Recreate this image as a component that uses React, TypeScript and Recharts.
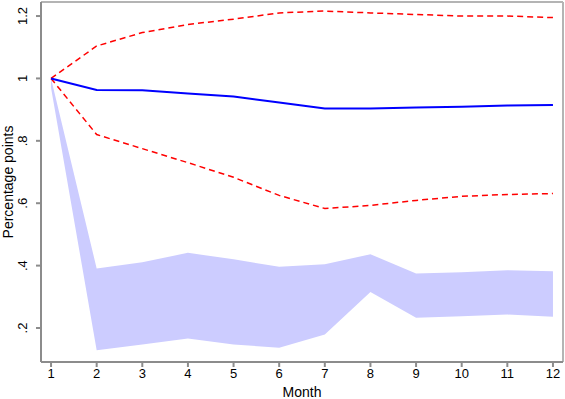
import React from "react";
import {
  ComposedChart,
  Area,
  Line,
  XAxis,
  YAxis,
  ReferenceLine,
} from "recharts";

const months = [1, 2, 3, 4, 5, 6, 7, 8, 9, 10, 11, 12];
const central = [1.0, 0.963, 0.962, 0.952, 0.942, 0.923, 0.904, 0.904, 0.907, 0.909, 0.913, 0.915];
const upperCI = [1.0, 1.104, 1.147, 1.173, 1.19, 1.21, 1.216, 1.21, 1.205, 1.2, 1.2, 1.195];
const lowerCI = [1.0, 0.82, 0.775, 0.73, 0.683, 0.625, 0.583, 0.593, 0.609, 0.622, 0.628, 0.631];
const bandHigh = [1.0, 0.391, 0.411, 0.441, 0.42, 0.396, 0.404, 0.436, 0.375, 0.379, 0.385, 0.382];
const bandLow = [0.97, 0.129, 0.147, 0.166, 0.147, 0.137, 0.179, 0.315, 0.233, 0.238, 0.243, 0.236];

const yTicks = [0.2, 0.4, 0.6, 0.8, 1, 1.2];
const yTickLabels = [".2", ".4", ".6", ".8", "1", "1.2"];

const data = months.map((m, i) => ({
  month: m,
  central: central[i],
  upper: upperCI[i],
  lower: lowerCI[i],
  band: [bandLow[i], bandHigh[i]],
}));

const font = "'Liberation Sans', Arial, sans-serif";
const frame = "#8c8c8c";

function YTick(props: any) {
  const { x, y, payload } = props;
  const idx = yTicks.indexOf(payload.value);
  return (
    <text
      x={x}
      y={y}
      dy="0.35em"
      textAnchor="middle"
      transform={`rotate(-90, ${x}, ${y})`}
      fontSize={13}
      fontFamily={font}
      fill="#000"
    >
      {idx >= 0 ? yTickLabels[idx] : payload.value}
    </text>
  );
}

function YLabel(props: any) {
  const { viewBox } = props;
  const cx = 8;
  const cy = viewBox.y + viewBox.height / 2;
  return (
    <text
      x={cx}
      y={cy}
      dy="0.35em"
      textAnchor="middle"
      transform={`rotate(-90, ${cx}, ${cy})`}
      fontSize={14}
      fontFamily={font}
      fill="#000"
    >
      Percentage points
    </text>
  );
}

export default function App() {
  return (
    <div style={{ position: "fixed", left: 0, top: 0, background: "#fff" }}>
      <ComposedChart
        width={565}
        height={399}
        data={data}
        margin={{ top: 2, right: 2, bottom: 0, left: 0 }}
      >
        <XAxis
          dataKey="month"
          type="number"
          domain={[0.78, 12.22]}
          ticks={months}
          allowDataOverflow
          height={37}
          stroke={frame}
          strokeWidth={2}
          tickSize={5}
          tick={{ fill: "#000", fontSize: 13, fontFamily: font }}
          label={{
            value: "Month",
            position: "insideBottom",
            offset: 2,
            fill: "#000",
            fontSize: 14,
            fontFamily: font,
          }}
        />
        <YAxis
          type="number"
          domain={[0.091, 1.245]}
          ticks={yTicks}
          allowDataOverflow
          width={41}
          stroke={frame}
          strokeWidth={2}
          tickSize={5}
          tickMargin={14}
          tick={<YTick />}
          label={<YLabel />}
        />
        <ReferenceLine y={1.245} stroke="#b4b4b4" strokeWidth={2} ifOverflow="visible" />
        <ReferenceLine x={12.22} stroke="#b4b4b4" strokeWidth={2} ifOverflow="visible" />
        <Area
          dataKey="band"
          type="linear"
          fill="#ccccff"
          fillOpacity={1}
          stroke="none"
          isAnimationActive={false}
        />
        <Line
          dataKey="upper"
          type="linear"
          stroke="#ff0000"
          strokeWidth={1.5}
          strokeDasharray="6 4"
          dot={false}
          isAnimationActive={false}
        />
        <Line
          dataKey="lower"
          type="linear"
          stroke="#ff0000"
          strokeWidth={1.5}
          strokeDasharray="6 4"
          dot={false}
          isAnimationActive={false}
        />
        <Line
          dataKey="central"
          type="linear"
          stroke="#0000ff"
          strokeWidth={2}
          dot={false}
          isAnimationActive={false}
        />
      </ComposedChart>
    </div>
  );
}
